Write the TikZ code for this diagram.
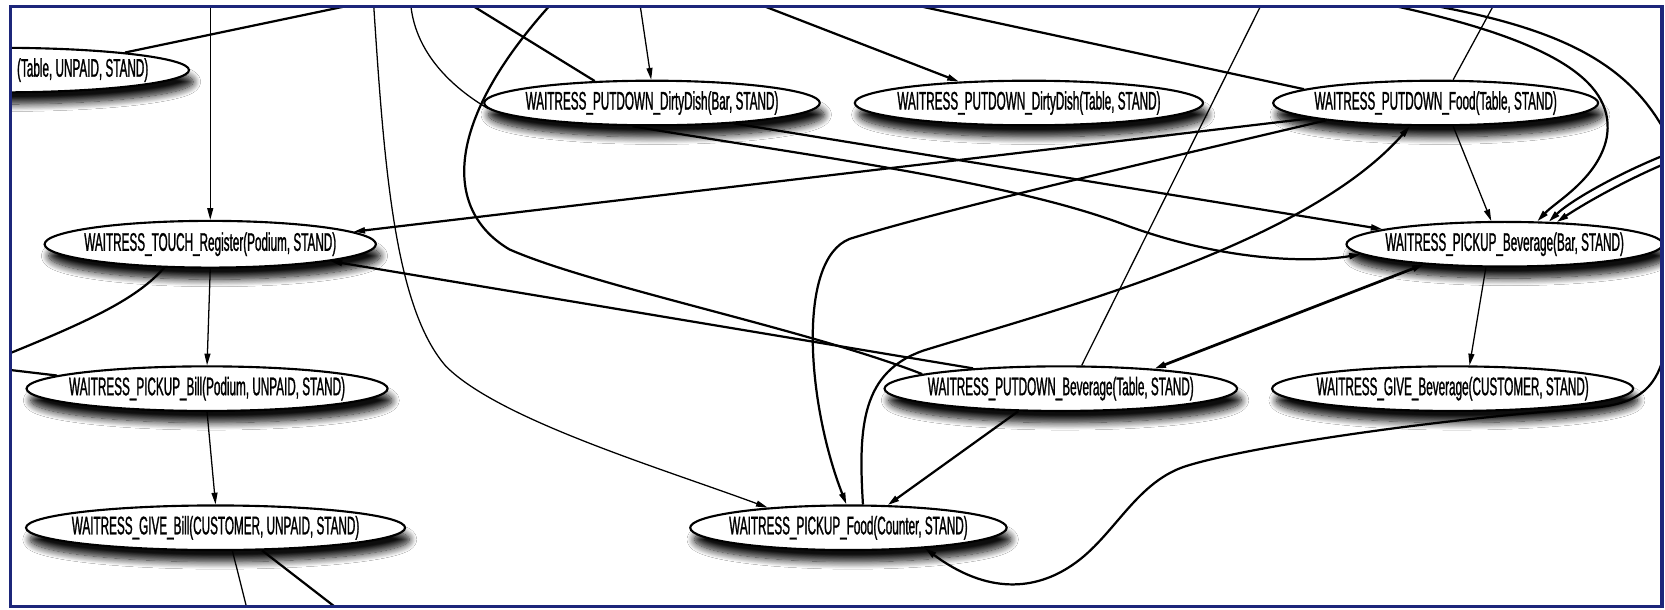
\documentclass[tikz,border=0pt]{standalone}
\usepackage{fontspec}
\newfontfamily\nf[FakeStretch=0.46,FakeBold=1]{Liberation Sans}
\usetikzlibrary{shapes.geometric,arrows.meta,shadows.blur}
\definecolor{framecol}{RGB}{28,38,122}
\newcommand{\ndlab}[1]{\makebox[0pt]{#1}}
\begin{document}
\begin{tikzpicture}[x=0.5pt,y=-0.5pt,
  ev/.style={ellipse, draw=black, line width=1pt, fill=white, inner sep=0pt,
    minimum height=21pt,
    blur shadow={shadow xshift=2pt, shadow yshift=-5.5pt, shadow blur radius=3.5pt,
      shadow blur steps=12, shadow opacity=95},
    font=\nf\fontsize{12pt}{13pt}\selectfont},
  lbl/.style={inner sep=0pt, font=\nf\fontsize{12pt}{13pt}\selectfont},
  ed/.style={draw=black, line width=1.05pt},
  edt/.style={draw=black, line width=0.6pt},
  arrowend/.style={-{Triangle[length=5.5pt,width=2.8pt]}},
  arrowboth/.style={{Triangle[length=5.5pt,width=2.8pt]}-{Triangle[length=5.5pt,width=2.8pt]}}]
\useasboundingbox (0,0) rectangle (1568,574);
\fill[white] (0,0) rectangle (1568,574);
\begin{scope}
\clip (10,6) rectangle (1565,571);
% nodes
\node[ev, minimum width=178pt] (A) at (0,66) {};
\node[lbl, anchor=east] (At) at (140,66) {(Table, UNPAID, STAND)};
\node[ev, minimum width=158pt] (B) at (614,97) {\ndlab{WAITRESS\_PUTDOWN\_DirtyDish(Bar, STAND)}};
\node[ev, minimum width=164pt] (C) at (969,97) {\ndlab{WAITRESS\_PUTDOWN\_DirtyDish(Table, STAND)}};
\node[ev, minimum width=153pt] (D) at (1352,97) {\ndlab{WAITRESS\_PUTDOWN\_Food(Table, STAND)}};
\node[ev, minimum width=156pt, minimum height=22pt] (E) at (198,230) {\ndlab{WAITRESS\_TOUCH\_Register(Podium, STAND)}};
\node[ev, minimum width=149pt] (F) at (1417,230) {\ndlab{WAITRESS\_PICKUP\_Beverage(Bar, STAND)}};
\node[ev, minimum width=170pt] (G) at (195,366) {\ndlab{WAITRESS\_PICKUP\_Bill(Podium, UNPAID, STAND)}};
\node[ev, minimum width=166pt] (H) at (999,366) {\ndlab{WAITRESS\_PUTDOWN\_Beverage(Table, STAND)}};
\node[ev, minimum width=170pt] (I) at (1368,366) {\ndlab{WAITRESS\_GIVE\_Beverage(CUSTOMER, STAND)}};
\node[ev, minimum width=178.5pt] (J) at (203,497) {\ndlab{WAITRESS\_GIVE\_Bill(CUSTOMER, UNPAID, STAND)}};
\node[ev, minimum width=149pt] (K) at (799,497) {\ndlab{WAITRESS\_PICKUP\_Food(Counter, STAND)}};
% free ends
\coordinate (oA) at (325,6);
\coordinate (oE) at (198,6);
\coordinate (oK1) at (352,6);
\coordinate (oB1) at (387,6);
\coordinate (oB2) at (446,6);
\coordinate (oH1) at (517,6);
\coordinate (oB3) at (603,6);
\coordinate (oC) at (720,6);
\coordinate (oD1) at (867,6);
\coordinate (oH2) at (1187,6);
\coordinate (oF1) at (1315,6);
\coordinate (oT2) at (1354,6);
\coordinate (oD2) at (1406,6);
\coordinate (oR2) at (1578,145);
\coordinate (oR3) at (1578,142);
\coordinate (oR4) at (1578,150);
\coordinate (oR5) at (1570,322);
\coordinate (oL1) at (6,334);
\coordinate (oL2) at (6,348);
\coordinate (oJ1) at (233,575);
\coordinate (oJ2) at (320,575);
% edges
\draw[ed] (A.8) -- (oA);
\draw[edt,arrowend] (oE) -- (E.north);
\draw[edt,arrowend] (oK1) .. controls (362,160) and (372,290) .. (420,345) .. controls (470,395) and (620,440) .. (K.166);
\draw[edt] (B.182) .. controls (425,82) and (392,50) .. (oB1);
\draw[ed] (B.159) -- (oB2);
\draw[ed] (H.174) .. controls (760,310) and (560,270) .. (480,235) .. controls (420,200) and (415,120) .. (oH1);
\draw[edt,arrowend] (oB3) -- (B.92);
\draw[ed,arrowend] (oC) -- (C.163);
\draw[ed] (D.174) -- (oD1);
\draw[edt] (H.48) -- (oH2);
\draw[edt] (D.53) -- (oD2);
\draw[ed,arrowend] (oF1) .. controls (1470,40) and (1522,80) .. (1513,130) .. controls (1505,168) and (1465,190) .. (F.35);
\draw[ed] (oT2) .. controls (1480,30) and (1545,65) .. (oR2);
\draw[ed,arrowend] (oR3) .. controls (1530,160) and (1480,188) .. (F.27);
\draw[ed,arrowend] (oR4) .. controls (1533,168) and (1490,193) .. (F.23);
\draw[ed,arrowend] (D.187) -- (E.5);
\draw[ed,arrowend] (H.167) -- (E.-8);
\draw[edt,arrowend] (E.south) -- (G.north);
\draw[edt,arrowend] (G.south) -- (J.north);
\draw[edt] (J.-54) -- (oJ1);
\draw[ed] (J.-26) -- (oJ2);
\draw[ed] (E.207) .. controls (130,280) and (90,300) .. (oL1);
\draw[ed] (G.175) -- (oL2);
\draw[ed,arrowend] (B.-14) -- (F.173);
\draw[ed,arrowend] (B.-130) .. controls (750,145) and (950,170) .. (1060,212) .. controls (1150,245) and (1230,248) .. (F.184);
\draw[ed,arrowend] (D.189) .. controls (1050,160) and (880,200) .. (800,225) .. controls (750,245) and (760,380) .. (K.95);
\draw[ed,arrowend] (K.58) .. controls (808,400) and (812,350) .. (870,330) .. controls (1000,290) and (1230,230) .. (D.-138);
\draw[ed,line width=1.3pt,arrowboth] (H.12) -- (F.194);
\draw[ed,arrowend] (H.208) -- (K.30);
\draw[edt,arrowend] (D.-53) -- (F.120);
\draw[edt,arrowend] (F.231) -- (I.54);
\draw[ed,arrowend] (oR5) .. controls (1562,365) and (1545,380) .. (1500,384) .. controls (1350,395) and (1180,420) .. (1120,438) .. controls (1070,452) and (1050,505) .. (1010,532) .. controls (975,556) and (930,560) .. (K.-15);
\end{scope}
\draw[framecol, line width=1.6pt] (10,6) rectangle (1565,571);
\end{tikzpicture}
\end{document}
